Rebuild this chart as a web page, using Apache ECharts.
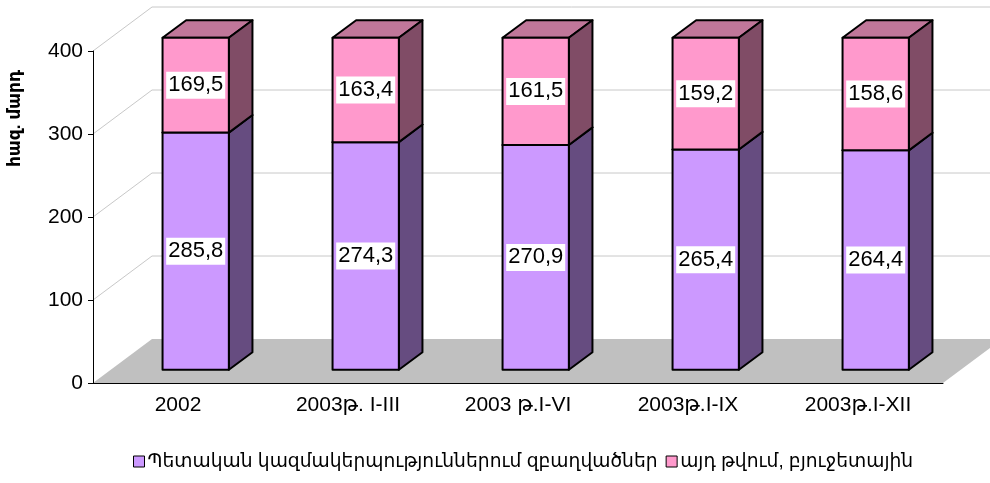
<!DOCTYPE html>
<html><head><meta charset="utf-8">
<script src="https://cdn.jsdelivr.net/npm/echarts@6/dist/echarts.min.js"></script>
<style>html,body{margin:0;padding:0;background:#fff}#c{width:990px;height:483px}</style>
</head><body><div id="c"></div>
<script>
const categories = ['2002', '2003թ. I-III', '2003 թ.I-VI', '2003թ.I-IX', '2003թ.I-XII'];
const employed = [285.8, 274.3, 270.9, 265.4, 264.4];
const budgetary = [169.5, 163.4, 161.5, 159.2, 158.6];
const seriesNames = ['Պետական կազմակերպություններում զբաղվածներ', 'այդ թվում, բյուջետային'];
const yAxisName = 'հազ. մարդ';
const Y_MIN = 0, Y_MAX = 400, Y_STEP = 100;

const FONT = '"Liberation Sans", "DejaVu Sans", Arial, sans-serif';
const DEPTH_X = 59, DEPTH_Y = 44;
const D0 = 0.3, D1 = 0.7;
const BAR_FRAC = 0.39;
const purple = {front: '#CC99FF', side: '#664C80', top: '#9973BF'};
const pink = {front: '#FF99CC', side: '#804C66', top: '#C0779A'};

function fmt(v) { return v.toFixed(1).replace('.', ','); }

function barRender(colors) {
  return function (params, api) {
    const i = api.value(0), lo = api.value(1), hi = Math.min(api.value(2), Y_MAX), v = api.value(3);
    const base = api.coord([i, lo]);
    const top = api.coord([i, hi]);
    const band = api.size([1, 0])[0];
    const w = band * BAR_FRAC;
    const ox = DEPTH_X * D0, oy = -DEPTH_Y * D0;
    const dx = DEPTH_X * (D1 - D0), dy = -DEPTH_Y * (D1 - D0);
    const xl = base[0] + ox - w / 2, xr = base[0] + ox + w / 2;
    const yb = base[1] + oy, yt = top[1] + oy;
    const st = (fill) => ({fill: fill, stroke: '#000', lineWidth: 2, lineJoin: 'round'});
    return {type: 'group', children: [
      {type: 'polygon', shape: {points: [[xl, yt], [xr, yt], [xr + dx, yt + dy], [xl + dx, yt + dy]]}, style: st(colors.top)},
      {type: 'polygon', shape: {points: [[xr, yt], [xr + dx, yt + dy], [xr + dx, yb + dy], [xr, yb]]}, style: st(colors.side)},
      {type: 'rect', shape: {x: xl, y: yt, width: w, height: yb - yt}, style: st(colors.front)},
      {type: 'text', x: (xl + xr) / 2, y: (yt + yb) / 2, z2: 10,
        style: {text: fmt(v), fill: '#000', font: '22px ' + FONT, align: 'center', verticalAlign: 'middle',
          backgroundColor: '#fff', padding: [3, 2, 2, 2]}}
    ]};
  };
}

function wallRender(params, api) {
  const cs = params.coordSys;
  const x0 = cs.x, x1 = cs.x + cs.width;
  const children = [];
  const y0 = api.coord([0, 0])[1];
  children.push({type: 'polygon', shape: {points: [[x0, y0], [x1, y0], [x1 + DEPTH_X, y0 - DEPTH_Y], [x0 + DEPTH_X, y0 - DEPTH_Y]]},
    style: {fill: '#C0C0C0', stroke: null}});
  for (let v = Y_MIN + Y_STEP; v <= Y_MAX; v += Y_STEP) {
    const y = api.coord([0, v])[1];
    children.push({type: 'polyline', shape: {points: [[x0, y], [x0 + DEPTH_X, y - DEPTH_Y], [x1 + DEPTH_X + 20, y - DEPTH_Y]]},
      style: {fill: null, stroke: '#C8C8C8', lineWidth: 1}});
  }
  return {type: 'group', children: children};
}

const chart = echarts.init(document.getElementById('c'), null, {renderer: 'canvas'});
chart.setOption({
  animation: false,
  backgroundColor: '#fff',
  grid: {left: 93, right: 47, top: 51, bottom: 100, containLabel: false},
  legend: {
    data: seriesNames, bottom: 7, left: 128, icon: 'rect', itemWidth: 11, itemHeight: 11, itemGap: 8,
    itemStyle: {borderColor: '#000', borderWidth: 1},
    textStyle: {fontFamily: FONT, fontSize: 18.7, color: '#000', padding: [0, 0, 0, -2]}
  },
  graphic: [{type: 'text', left: 7, top: 70, rotation: Math.PI / 2,
    style: {text: yAxisName, font: 'bold 17px ' + FONT, fill: '#000'}}],
  xAxis: {
    type: 'category', data: categories,
    axisLine: {lineStyle: {color: '#000', width: 1}},
    axisTick: {length: 6, lineStyle: {color: '#000'}},
    axisLabel: {fontFamily: FONT, fontSize: 21, color: '#000', margin: 12},
    splitLine: {show: false}
  },
  yAxis: {
    type: 'value', min: Y_MIN, max: Y_MAX, interval: Y_STEP,
    axisLine: {show: true, lineStyle: {color: '#000', width: 1}},
    axisTick: {show: true, length: 5, lineStyle: {color: '#000'}},
    axisLabel: {fontFamily: FONT, fontSize: 21, color: '#000', margin: 10},
    splitLine: {show: false}
  },
  series: [
    {type: 'custom', name: 'walls', z: -1, silent: true, renderItem: wallRender, data: [[0, 0]], encode: {x: 0, y: 1}},
    {type: 'custom', name: seriesNames[0], z: 2, renderItem: barRender(purple), itemStyle: {color: purple.front},
      data: employed.map((v, i) => [i, 0, v, v]), encode: {x: 0, y: [1, 2]}},
    {type: 'custom', name: seriesNames[1], z: 3, renderItem: barRender(pink), itemStyle: {color: pink.front},
      data: budgetary.map((v, i) => [i, employed[i], employed[i] + v, v]), encode: {x: 0, y: [1, 2]}}
  ]
});
</script></body></html>
